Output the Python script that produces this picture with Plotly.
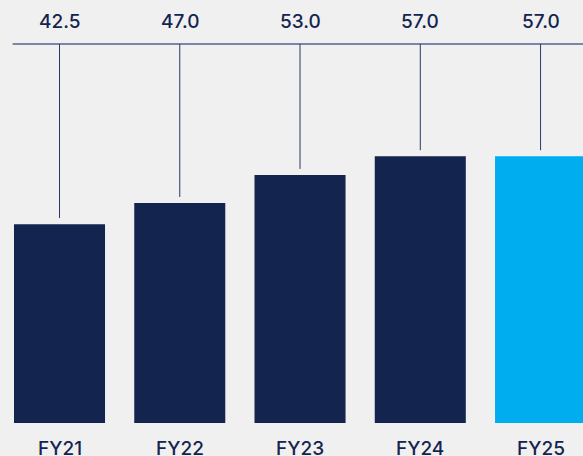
import plotly.graph_objects as go

# Fiscal-year values
categories = ["FY21", "FY22", "FY23", "FY24", "FY25"]
values = [42.5, 47.0, 53.0, 57.0, 57.0]
value_labels = ["42.5", "47.0", "53.0", "57.0", "57.0"]

NAVY = "#13244f"
CYAN = "#00aeef"
BG = "#f0f0f0"
RULE = "#7b87a6"
FONT = "Inter"

bar_colors = [NAVY] * (len(categories) - 1) + [CYAN]
x_idx = list(range(len(categories)))

W, H = 583, 456
plot_h = 423          # pixel height of the plotting area (bottom margin holds labels)
y_max = 90.4          # top of the value axis
rule_level = y_max * (plot_h - 44) / plot_h   # horizontal rule position in data units
label_paper_y = (plot_h - 22) / plot_h

fig = go.Figure()
fig.add_trace(go.Bar(
    x=x_idx, y=values, width=0.757,
    marker=dict(color=bar_colors, line=dict(width=0)),
    hoverinfo="skip",
))

shapes = [dict(type="line", xref="x", yref="y",
               x0=-0.39, x1=5, y0=rule_level, y1=rule_level,
               line=dict(color=RULE, width=2), layer="above")]
for i, v in enumerate(values):
    shapes.append(dict(type="line", xref="x", yref="y",
                       x0=i, x1=i, y0=v + 1.3, y1=rule_level,
                       line=dict(color="#2a3a66", width=1)))

annotations = []
for i, (lab, cat) in enumerate(zip(value_labels, categories)):
    annotations.append(dict(x=i, y=label_paper_y, xref="x", yref="paper",
                            text=lab, showarrow=False, xanchor="center", yanchor="middle",
                            font=dict(family=FONT, size=19, color=NAVY, weight=500)))
    annotations.append(dict(x=i, y=0, xref="x", yref="paper",
                            text=cat, showarrow=False, xanchor="center", yanchor="middle",
                            yshift=-25,
                            font=dict(family=FONT, size=19, color=NAVY, weight=500)))

fig.update_layout(
    width=W, height=H,
    margin=dict(l=0, r=0, t=0, b=H - plot_h, pad=0),
    paper_bgcolor=BG, plot_bgcolor=BG,
    showlegend=False,
    xaxis=dict(range=[-0.4948, 4.353], visible=False, fixedrange=True),
    yaxis=dict(range=[0, y_max], visible=False, fixedrange=True),
    shapes=shapes,
    annotations=annotations,
)

fig.write_html("out.html", config={"displayModeBar": False})
